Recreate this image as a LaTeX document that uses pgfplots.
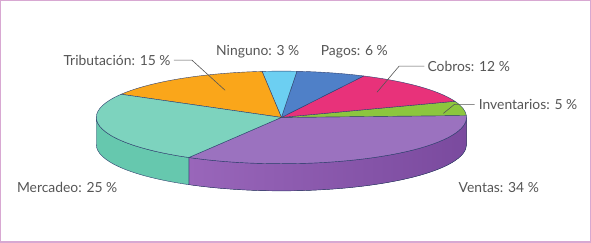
\documentclass[border=0pt]{standalone}
\usepackage{pgfplots}
\usepackage{pgfplotstable}
\pgfplotsset{compat=1.18}
\usepackage{fontspec}
\setmainfont{Lato}
\definecolor{c0}{HTML}{9B72BF}
\definecolor{c1}{HTML}{8CC63E}
\definecolor{c2}{HTML}{E8327A}
\definecolor{c3}{HTML}{4F80C8}
\definecolor{c4}{HTML}{6CCFF2}
\definecolor{c5}{HTML}{FAA61A}
\definecolor{c6}{HTML}{7DD3BE}
\definecolor{sideV1}{HTML}{9966BA}
\definecolor{sideV2}{HTML}{7A4A9E}
\definecolor{sideM}{HTML}{66C8AE}
\definecolor{edge}{HTML}{2E3F6E}
\definecolor{lbl}{HTML}{555555}
\definecolor{frame}{HTML}{D8A8D2}
\pgfplotstableread{
name value
Ventas 34
Inventarios 5
Cobros 12
Pagos 6
Ninguno 3
Tributacion 15
Mercadeo 25
}\piedata
\begin{document}
\begin{tikzpicture}
\begin{axis}[
  width=591pt, height=245pt, scale only axis,
  xmin=0, xmax=591, ymin=0, ymax=245,
  hide axis, clip=false,
]
\def\cx{282}\def\cy{126}
\def\rx{184pt}\def\ry{46pt}\def\dep{27pt}
\def\angStart{-120}
% frame
\draw[frame, line width=1.4pt] (axis cs:3,2) rectangle (axis cs:589,242);
% side faces
\edef\temp{\noexpand\fill[left color=sideV1, right color=sideV2, draw=edge, line width=0.4pt]
  (axis cs:\cx,\cy) ++(\angStart:\rx\space and \ry) arc[start angle=\angStart, end angle=0, x radius=\rx, y radius=\ry]
  -- ++(0,-\dep) arc[start angle=0, end angle=\angStart, x radius=\rx, y radius=\ry] -- cycle;}
\temp
\edef\temp{\noexpand\fill[fill=sideM, draw=edge, line width=0.4pt]
  (axis cs:\cx,\cy) ++(180:\rx\space and \ry) arc[start angle=180, end angle=\angStart+360, x radius=\rx, y radius=\ry]
  -- ++(0,-\dep) arc[start angle=\angStart+360, end angle=180, x radius=\rx, y radius=\ry] -- cycle;}
\temp
% top faces
\let\angA\angStart
\pgfplotsforeachungrouped \i in {0,...,6}{%
  \pgfplotstablegetelem{\i}{value}\of\piedata
  \pgfmathsetmacro\angB{\angA+3.6*\pgfplotsretval}%
  \edef\temp{\noexpand\fill[fill=c\i, draw=edge, line width=0.4pt, line join=round]
    (axis cs:\cx,\cy) -- ++(\angA:\rx\space and \ry) arc[start angle=\angA, end angle=\angB, x radius=\rx, y radius=\ry] -- cycle;}%
  \temp
  \global\let\angA\angB
}
% leader lines
\draw[lbl, line width=0.6pt] (axis cs:175,183) -- (axis cs:193,183) -- (axis cs:226,153);
\draw[lbl, line width=0.6pt] (axis cs:424,177) -- (axis cs:399,177) -- (axis cs:377,151);
\draw[lbl, line width=0.6pt] (axis cs:474,139) -- (axis cs:454,139) -- (axis cs:443,130);
% labels
\begin{scope}[every node/.style={inner sep=0pt, text=lbl, font=\fontsize{13.8}{16}\selectfont}]
\node[anchor=base east] at (axis cs:172,178) {Tributación: 15 \%};
\node[anchor=base west] at (axis cs:217,188) {Ninguno: 3 \%};
\node[anchor=base west] at (axis cs:321,188) {Pagos: 6 \%};
\node[anchor=base west] at (axis cs:427,172) {Cobros: 12 \%};
\node[anchor=base west] at (axis cs:478,134) {Inventarios: 5 \%};
\node[anchor=base west] at (axis cs:458,51) {Ventas: 34 \%};
\node[anchor=base west] at (axis cs:19,51) {Mercadeo: 25 \%};
\end{scope}
\end{axis}
\end{tikzpicture}
\end{document}
